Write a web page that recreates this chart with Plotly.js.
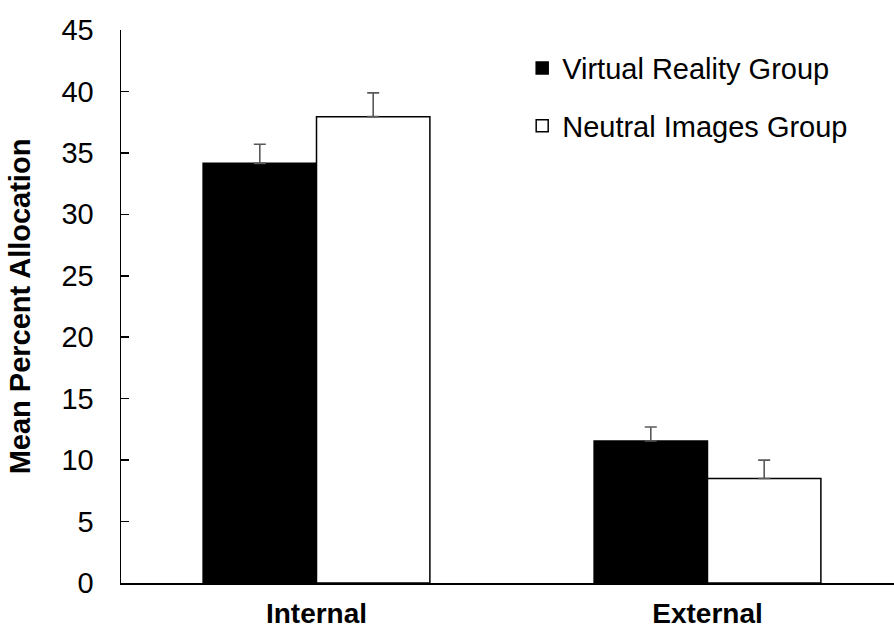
<!DOCTYPE html>
<html>
<head>
<meta charset="utf-8">
<script src="https://cdn.plot.ly/plotly-3.0.1.min.js"></script>
<style>html,body{margin:0;padding:0;background:#fff;}#chart{width:894px;height:628px;}</style>
</head>
<body>
<div id="chart"></div>
<script>
const categories = ["Internal", "External"];
const seriesNames = ["Virtual Reality Group", "Neutral Images Group"];
const vrValues = [34.15, 11.55];
const vrErrors = [1.55, 1.15];
const niValues = [37.95, 8.5];
const niErrors = [1.93, 1.5];
const yTicks = [0, 5, 10, 15, 20, 25, 30, 35, 40, 45];

const FONT = "Liberation Sans, Arial, sans-serif";
const errStyle = {type: "data", visible: true, symmetric: false, arrayminus: [0, 0], color: "#595959", thickness: 1.6, width: 6};

const data = [
  {type: "bar", name: seriesNames[0], x: categories, y: vrValues,
   marker: {color: "#000000", line: {color: "#000000", width: 1.5}},
   error_y: Object.assign({}, errStyle, {array: vrErrors}), legendgroup: "a"},
  {type: "bar", name: seriesNames[1], x: categories, y: niValues,
   marker: {color: "#ffffff", line: {color: "#000000", width: 1.5}},
   error_y: Object.assign({}, errStyle, {array: niErrors}), legendgroup: "b"}
];

const layout = {
  width: 894, height: 628,
  margin: {l: 121, r: 0, t: 30, b: 45},
  paper_bgcolor: "#fff", plot_bgcolor: "#fff",
  barmode: "group", bargap: 0.42, bargroupgap: 0,
  font: {family: FONT, color: "#000", size: 29},
  showlegend: true,
  legend: {x: 0.519, y: 0.977, xanchor: "left", yanchor: "top", bgcolor: "rgba(0,0,0,0)",
           font: {size: 29, color: "#000", family: FONT}, traceorder: "grouped", tracegroupgap: 17,
           itemwidth: 30},
  xaxis: {type: "category", range: [-0.5, 1.477], showline: true, linecolor: "#000", linewidth: 1.5,
          ticks: "", showgrid: false, zeroline: false, ticklabelstandoff: 5,
          tickfont: {size: 28, family: FONT, weight: "bold"}},
  yaxis: {range: [0, 45], tickvals: yTicks, ticktext: yTicks.map(String), showline: true, linecolor: "#000", linewidth: 1.5,
          ticks: "inside", ticklen: 8, tickwidth: 1.5, tickcolor: "#000", showgrid: false, zeroline: false,
          tickfont: {size: 29, family: FONT}, ticklabelstandoff: 20,
          title: {text: "<b>Mean Percent Allocation</b>", font: {size: 29, family: FONT}, standoff: 22}}
};

Plotly.newPlot("chart", data, layout, {displayModeBar: false, staticPlot: true});
</script>
</body>
</html>
